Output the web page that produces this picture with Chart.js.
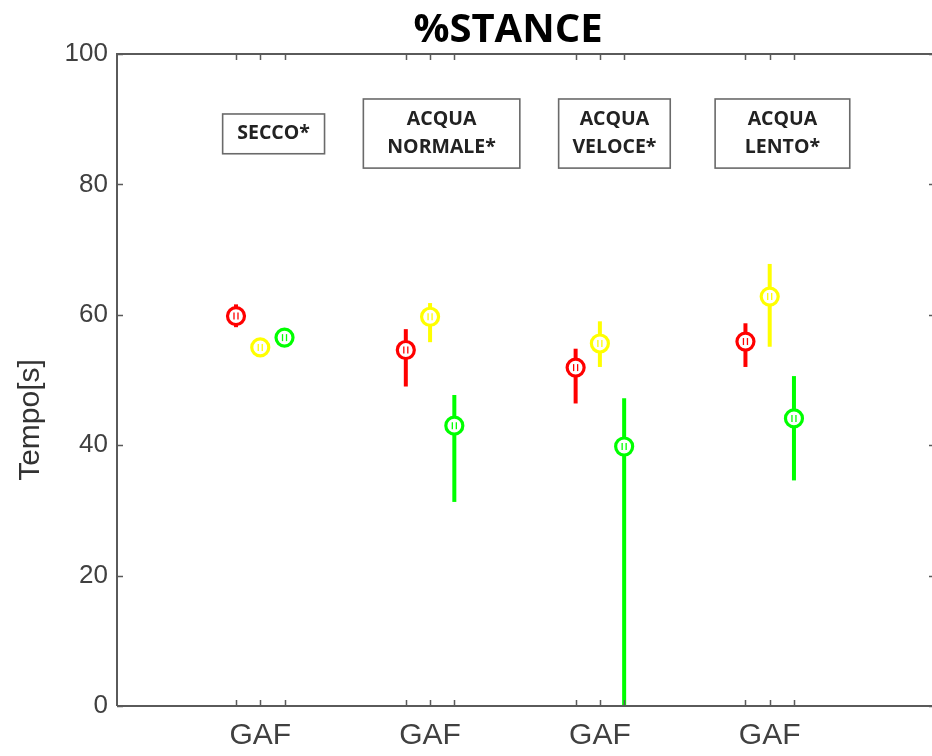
<!DOCTYPE html>
<html>
<head>
<meta charset="utf-8">
<script src="https://cdn.jsdelivr.net/npm/chart.js@4"></script>
<style>
  html, body { margin: 0; padding: 0; background: #fff; overflow: hidden; }
  #wrap { width: 932px; height: 756px; position: relative; }
  #c { position: absolute; left: 0; top: 0; width: 932px; height: 756px; max-width: none; }
</style>
</head>
<body>
<div id="wrap"><canvas id="c" width="932" height="756" style="width:932px;height:756px"></canvas></div>
<script>
// Conditions (one box label each) and subjects inside every condition
const conditions = [['SECCO*'], ['ACQUA', 'NORMALE*'], ['ACQUA', 'VELOCE*'], ['ACQUA', 'LENTO*']];
const subjects = ['G', 'A', 'F'];

// x positions on the axis: G, A, F of each condition
const xTicks = [1, 2, 3, 8, 9, 10, 15, 16, 17, 22, 23, 24];
const xTickLabels = ['', 'GAF', '', '', 'GAF', '', '', 'GAF', '', '', 'GAF', ''];
const yTicks = [0, 20, 40, 60, 80, 100];

// %STANCE per condition: mean and lower / upper end of the bar
const meanG = [59.8, 54.6, 51.9, 55.9];
const lowG  = [58.1, 49.0, 46.4, 52.0];
const highG = [61.6, 57.8, 54.8, 58.7];

const meanA = [55.0, 59.7, 55.6, 62.8];
const lowA  = [54.0, 55.8, 52.0, 55.1];
const highA = [56.0, 61.8, 59.0, 67.8];

const meanF = [56.5, 43.0, 39.8, 44.1];
const lowF  = [55.5, 31.3, 0.0, 34.6];
const highF = [57.5, 47.7, 47.2, 50.6];

// Label boxes, in axis units: [xLeft, xRight, yTop, yBottom]
const boxAreas = [
  [0.45, 4.65, 90.8, 84.7],
  [6.25, 12.7, 93.1, 82.5],
  [14.3, 18.9, 93.1, 82.5],
  [20.75, 26.3, 93.1, 82.5]
];

const COLORS = { G: '#ff0000', A: '#ffff00', F: '#00ff00' };
const AXIS = '#5a5a5a';

function series(name, means, lows, highs, offset) {
  return {
    label: name,
    data: means.map((m, i) => ({ x: xTicks[i * 3 + offset], y: m, lo: lows[i], hi: highs[i] })),
    borderColor: COLORS[name],
    backgroundColor: '#ffffff',
    pointRadius: 8.5,
    pointHoverRadius: 8.5,
    pointBorderWidth: 3.2,
    showLine: false
  };
}

// error bars drawn under the circles
const errorBars = {
  id: 'errorBars',
  beforeDatasetsDraw(chart) {
    const { ctx, scales: { x, y } } = chart;
    ctx.save();
    ctx.beginPath();
    ctx.rect(chart.chartArea.left, chart.chartArea.top, chart.chartArea.right - chart.chartArea.left, chart.chartArea.bottom - chart.chartArea.top);
    ctx.clip();
    chart.data.datasets.forEach(ds => {
      ctx.strokeStyle = ds.borderColor;
      ctx.lineWidth = 4;
      ds.data.forEach(p => {
        const px = x.getPixelForValue(p.x);
        ctx.beginPath();
        ctx.moveTo(px, y.getPixelForValue(p.hi));
        ctx.lineTo(px, y.getPixelForValue(p.lo));
        ctx.stroke();
      });
    });
    ctx.restore();
  },
  afterDatasetsDraw(chart) {
    // thin strokes inside each marker
    const { ctx, scales: { x, y } } = chart;
    ctx.save();
    chart.data.datasets.forEach(ds => {
      ctx.strokeStyle = ds.borderColor;
      ctx.lineWidth = 1.3;
      ds.data.forEach(p => {
        const px = x.getPixelForValue(p.x), py = y.getPixelForValue(p.y);
        [-2, 2].forEach(d => {
          ctx.beginPath();
          ctx.moveTo(px + d, py - 3.5);
          ctx.lineTo(px + d, py + 3.5);
          ctx.stroke();
        });
      });
    });
    ctx.restore();
  }
};

// box frame with inward tick marks, title, y title, condition boxes
const frame = {
  id: 'frame',
  afterDraw(chart) {
    const { ctx, chartArea: a, scales: { x, y } } = chart;
    ctx.save();
    ctx.strokeStyle = AXIS;
    ctx.lineWidth = 2;
    // the right side of the box sits just past the canvas edge
    const right = a.right + 4;
    ctx.beginPath();
    ctx.moveTo(a.left, a.bottom); ctx.lineTo(a.left, a.top); ctx.lineTo(right, a.top); ctx.lineTo(right, a.bottom); ctx.lineTo(a.left, a.bottom);
    ctx.stroke();
    ctx.lineWidth = 1.5;
    const tl = 6;
    x.ticks.forEach(t => {
      const px = Math.round(x.getPixelForValue(t.value)) + 0.5;
      ctx.beginPath();
      ctx.moveTo(px, a.bottom); ctx.lineTo(px, a.bottom - tl);
      ctx.moveTo(px, a.top); ctx.lineTo(px, a.top + tl);
      ctx.stroke();
    });
    y.ticks.forEach(t => {
      const py = Math.round(y.getPixelForValue(t.value)) + 0.5;
      ctx.beginPath();
      ctx.moveTo(a.left, py); ctx.lineTo(a.left + tl, py);
      ctx.moveTo(right, py); ctx.lineTo(right - tl - 1, py);
      ctx.stroke();
    });

    // title
    ctx.fillStyle = '#000';
    ctx.font = 'bold 40px "Open Sans", sans-serif';
    ctx.textAlign = 'center';
    ctx.textBaseline = 'middle';
    ctx.fillText('%STANCE', 508, 31);

    // y title
    ctx.save();
    ctx.translate(31, 420);
    ctx.rotate(-Math.PI / 2);
    ctx.fillStyle = '#333';
    ctx.font = '30px "Liberation Sans", Arial, sans-serif';
    ctx.fillText('Tempo[s]', 0, 0);
    ctx.restore();

    // condition boxes
    boxAreas.forEach((b, i) => {
      const l = x.getPixelForValue(b[0]), r = x.getPixelForValue(b[1]);
      const t = y.getPixelForValue(b[2]), bt = y.getPixelForValue(b[3]);
      ctx.fillStyle = '#fff';
      ctx.fillRect(l, t, r - l, bt - t);
      ctx.strokeStyle = '#6a6a6a';
      ctx.lineWidth = 1.6;
      ctx.strokeRect(l, t, r - l, bt - t);
      ctx.fillStyle = '#222';
      ctx.font = 'bold 19.5px "Open Sans", sans-serif';
      const lines = conditions[i];
      const cx = (l + r) / 2, cy = (t + bt) / 2, lh = 28;
      lines.forEach((s, k) => {
        ctx.fillText(s, cx, cy + (k - (lines.length - 1) / 2) * lh);
      });
    });
    ctx.restore();
  }
};

new Chart(document.getElementById('c'), {
  type: 'scatter',
  data: {
    datasets: [
      series('G', meanG, lowG, highG, 0),
      series('A', meanA, lowA, highA, 1),
      series('F', meanF, lowF, highF, 2)
    ]
  },
  options: {
    responsive: false,
    animation: false,
    events: [],
    layout: { autoPadding: false, padding: { top: 54, right: 0, left: 0, bottom: 0 } },
    plugins: { legend: { display: false }, title: { display: false }, tooltip: { enabled: false } },
    scales: {
      x: {
        type: 'linear',
        min: -3.905,
        max: 29.69,
        afterBuildTicks: s => { s.ticks = xTicks.map(v => ({ value: v })); },
        afterFit: s => { s.height = 50; s.paddingLeft = 0; s.paddingRight = 0; },
        grid: { display: false, drawTicks: false },
        border: { display: false },
        ticks: {
          autoSkip: false,
          maxRotation: 0,
          padding: 12,
          color: '#404040',
          font: { family: '"Liberation Sans", Arial, sans-serif', size: 30 },
          callback: (v, i) => xTickLabels[i]
        }
      },
      y: {
        min: 0,
        max: 100,
        afterBuildTicks: s => { s.ticks = yTicks.map(v => ({ value: v })); },
        afterFit: s => { s.width = 117; s.paddingTop = 0; s.paddingBottom = 0; },
        grid: { display: false, drawTicks: false },
        border: { display: false },
        ticks: {
          padding: 9,
          color: '#404040',
          font: { family: '"Liberation Sans", Arial, sans-serif', size: 26 }
        }
      }
    }
  },
  plugins: [errorBars, frame]
});
</script>
</body>
</html>
